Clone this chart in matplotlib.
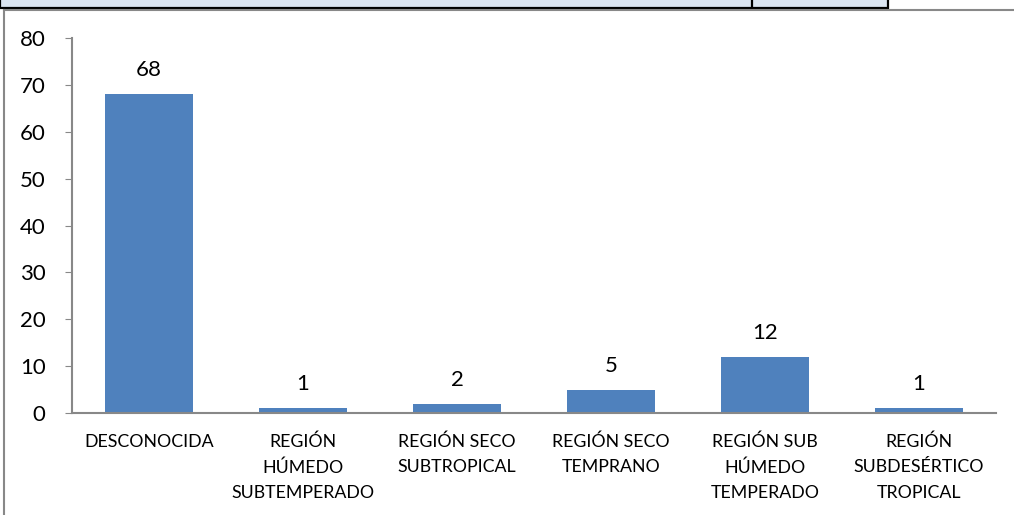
import matplotlib
matplotlib.use("Agg")
import matplotlib.pyplot as plt
from matplotlib.patches import Rectangle
from matplotlib.lines import Line2D

categorias = ["DESCONOCIDA", "REGIÓN\nHÚMEDO\nSUBTEMPERADO", "REGIÓN SECO\nSUBTROPICAL",
              "REGIÓN SECO\nTEMPRANO", "REGIÓN SUB\nHÚMEDO\nTEMPERADO", "REGIÓN\nSUBDESÉRTICO\nTROPICAL"]
valores = [68, 1, 2, 5, 12, 1]
yticks = [0, 10, 20, 30, 40, 50, 60, 70, 80]

plt.rcParams['font.family'] = ['Lato', 'DejaVu Sans']

W, H = 1014, 515
fig = plt.figure(figsize=(W / 100, H / 100), dpi=100, facecolor='white')

# franja superior (celdas de tabla) y marco del grafico
fig.patches.append(Rectangle((0, 1 - 7.5 / H), 888 / W, 10 / H, transform=fig.transFigure,
                             facecolor='#dbe5f1', edgecolor='black', linewidth=1.6))
fig.lines.append(Line2D([752 / W, 752 / W], [1 - 8 / H, 1], transform=fig.transFigure,
                        color='black', linewidth=1.6))
fig.lines.append(Line2D([3.5 / W, 3.5 / W], [0, 1 - 9.5 / H], transform=fig.transFigure,
                        color='#888888', linewidth=1.5))
fig.lines.append(Line2D([3.5 / W, 1], [1 - 9.5 / H, 1 - 9.5 / H], transform=fig.transFigure,
                        color='#888888', linewidth=1.5))

ax = fig.add_axes([72 / W, (H - 413) / H, (996 - 72) / W, (413 - 38) / H])
x = range(len(valores))
barras = ax.bar(x, valores, width=0.57, color='#4f81bd')
for b, v in zip(barras, valores):
    ax.text(b.get_x() + b.get_width() / 2, v + 3, str(v), ha='center', va='bottom', fontsize=16)

ax.set_xlim(-0.5, len(valores) - 0.5)
ax.set_ylim(0, 80)
ax.set_yticks(yticks)
ax.set_xticks(list(x))
ax.set_xticklabels(categorias, fontsize=12.8, linespacing=1.7, va='top')
ax.tick_params(axis='y', labelsize=16, length=5, color='#888888', pad=14)
ax.tick_params(axis='x', length=0, pad=15)
for s in ['top', 'right']:
    ax.spines[s].set_visible(False)
for s in ['left', 'bottom']:
    ax.spines[s].set_color('#888888')
    ax.spines[s].set_linewidth(1.5)

fig.savefig('out.png', dpi=100)
